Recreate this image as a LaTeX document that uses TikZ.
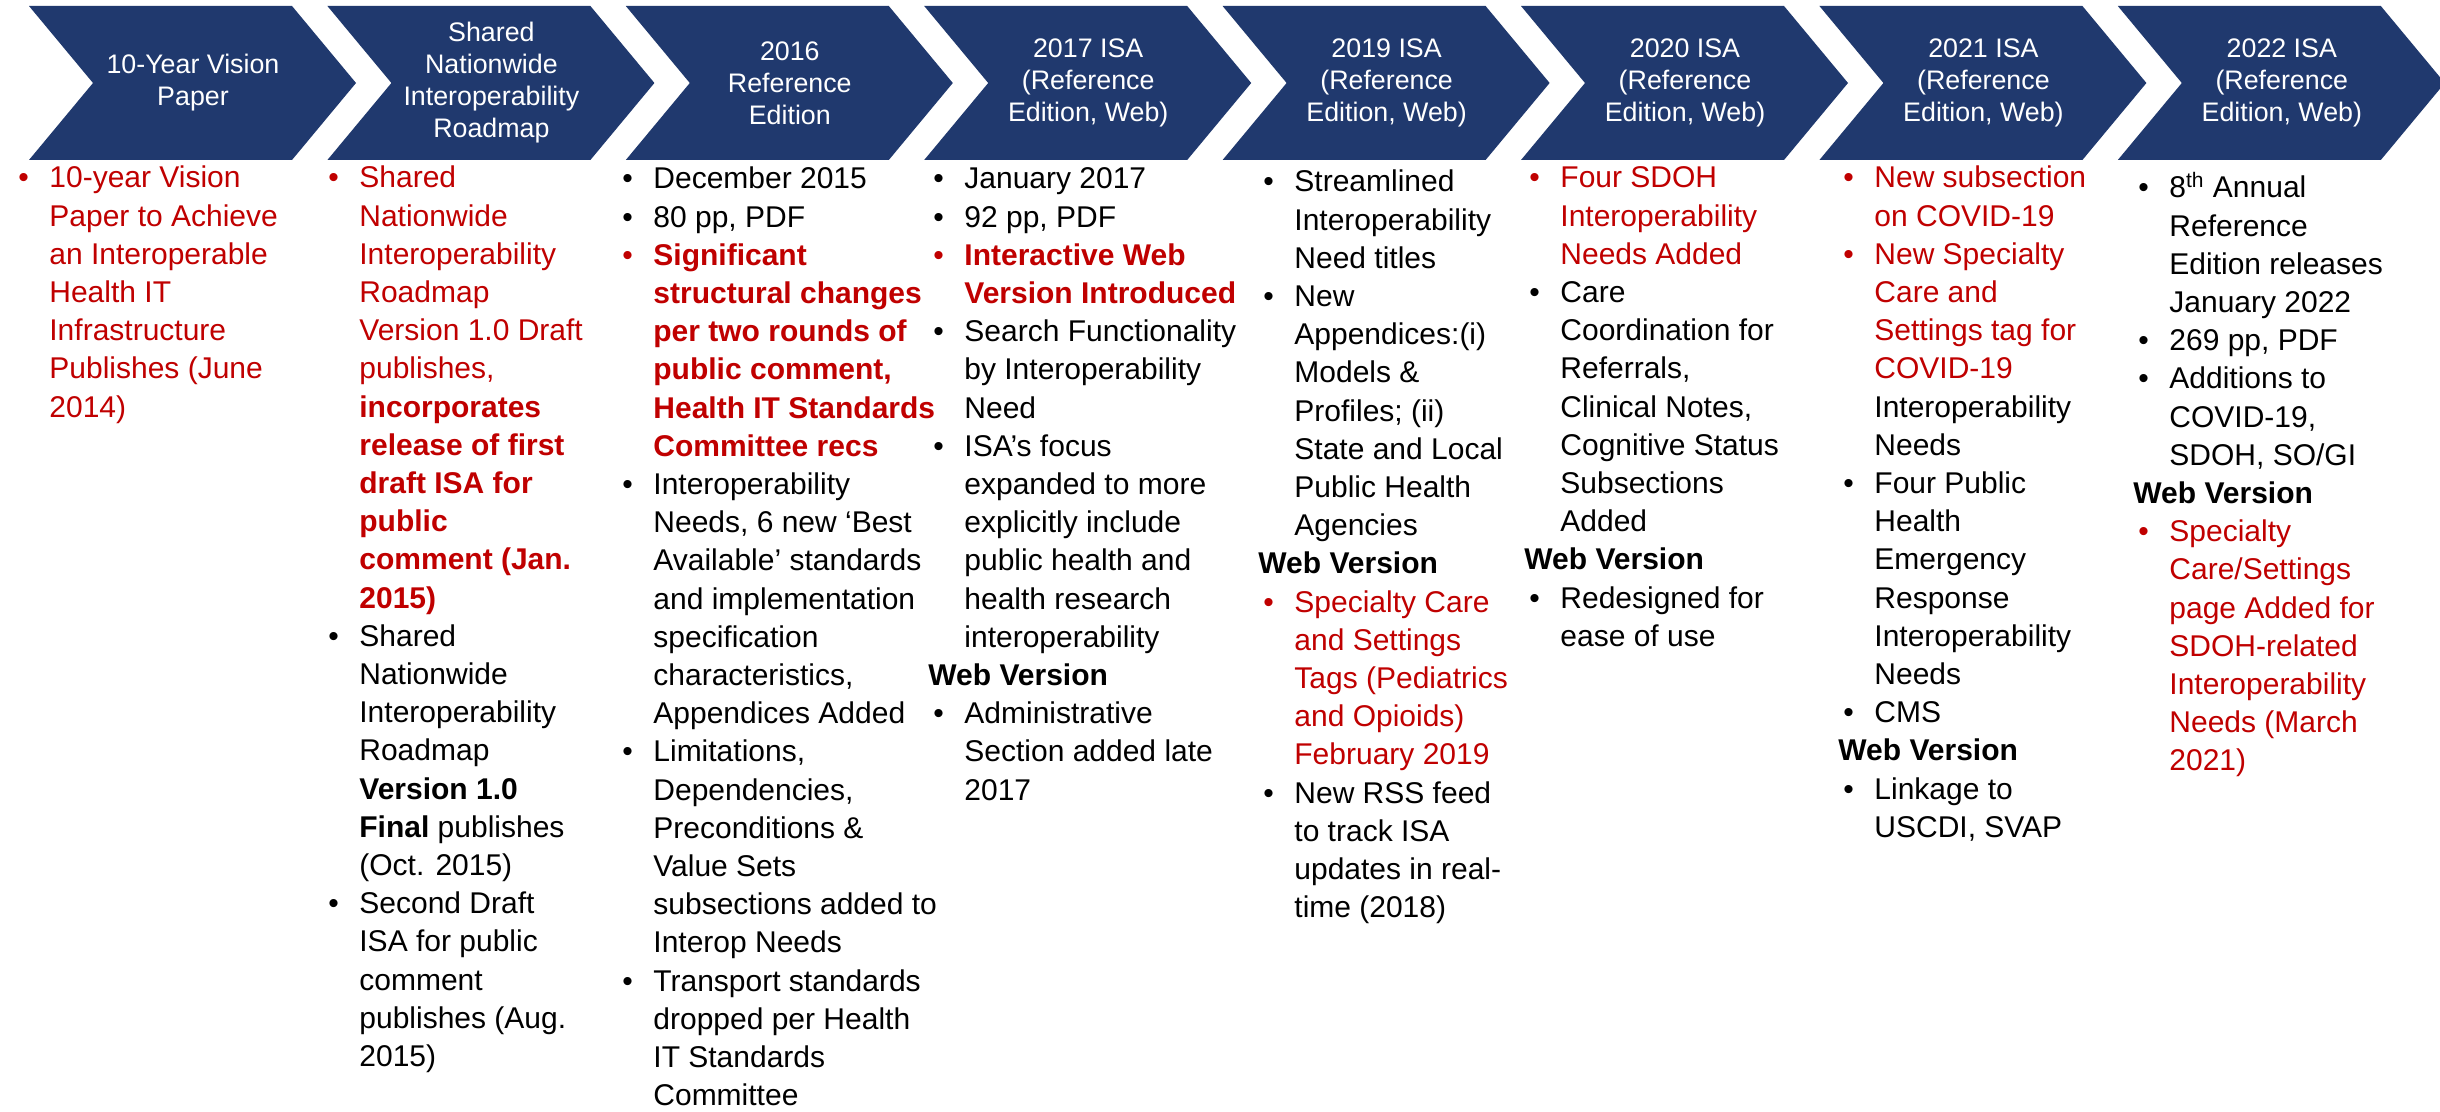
\documentclass[tikz,border=0pt]{standalone}
\usepackage{fontspec}
\setmainfont{Liberation Sans}
\definecolor{navy}{RGB}{32,57,110}
\definecolor{rd}{RGB}{192,0,0}
\newcommand\itm[2]{\par\hangindent=18pt\hangafter=1\noindent\makebox[18pt][l]{\hspace{2.5pt}\textcolor{#1}{\textbullet}}{#2}}
\newcommand\webv{\par\noindent\textbf{Web Version}}
\newcommand\colbox[1]{\parbox[t]{300pt}{\fontsize{15}{19.1}\selectfont\setlength\parindent{0pt}\hbadness=10000 #1}}
\tikzset{
  chev/.style={fill=navy},
  head/.style={text=white, align=center, font=\fontsize{13.4}{16}\selectfont, inner sep=0pt},
  col/.style={anchor=base west, inner sep=0pt},
}
\newcommand\chev[3]{%
  \fill[chev] (#2,6) -- ++(263,0) -- ++(64,77) -- ++(-64,77) -- ++(-263,0) -- ++(64,-77) -- cycle;
  \node[head] (#1) at (#2+164,83) {#3};}
\begin{document}
\begin{tikzpicture}[x=0.5pt,y=-0.5pt]
\fill[white] (0,0) rectangle (2440,1112);
\useasboundingbox (0,0) rectangle (2440,1112);

\chev{h1}{29}{10-Year Vision\\Paper}
\chev{h2}{327.4}{Shared\\Nationwide\\Interoperability\\Roadmap}
\chev{h3}{625.8}{2016\\Reference\\Edition}
\chev{h4}{924.2}{2017 ISA\\(Reference\\Edition, Web)}
\chev{h5}{1222.6}{2019 ISA\\(Reference\\Edition, Web)}
\chev{h6}{1521}{2020 ISA\\(Reference\\Edition, Web)}
\chev{h7}{1819.4}{2021 ISA\\(Reference\\Edition, Web)}
\chev{h8}{2117.8}{2022 ISA\\(Reference\\Edition, Web)}

\node[col] (c1) at (13,188) {\colbox{%
\itm{rd}{\color{rd}10-year Vision\\Paper to Achieve\\an Interoperable\\Health IT\\Infrastructure\\Publishes (June\\2014)}}};

\node[col] (c2) at (323,188) {\colbox{%
\itm{rd}{\color{rd}Shared\\Nationwide\\Interoperability\\Roadmap\\Version 1.0 Draft\\publishes,\\\textbf{incorporates\\release of first\\draft ISA for\\public\\comment (Jan.\\2015)}}
\itm{black}{Shared\\Nationwide\\Interoperability\\Roadmap\\\textbf{Version 1.0\\Final} publishes\\(Oct. 2015)}
\itm{black}{Second Draft\\ISA for public\\comment\\publishes (Aug.\\2015)}}};

\node[col] (c3) at (617,189) {\colbox{%
\itm{black}{December 2015}
\itm{black}{80 pp, PDF}
\itm{rd}{\color{rd}\bfseries Significant\\structural changes\\per two rounds of\\public comment,\\Health IT Standards\\Committee recs}
\itm{black}{Interoperability\\Needs, 6 new ‘Best\\Available’ standards\\and implementation\\specification\\characteristics,\\Appendices Added}
\itm{black}{Limitations,\\Dependencies,\\Preconditions \&\\Value Sets\\subsections added to\\Interop Needs}
\itm{black}{Transport standards\\dropped per Health\\IT Standards\\Committee}}};

\node[col] (c4) at (928,189) {\colbox{%
\itm{black}{January 2017}
\itm{black}{92 pp, PDF}
\itm{rd}{\color{rd}\bfseries Interactive Web\\Version Introduced}
\itm{black}{Search Functionality\\by Interoperability\\Need}
\itm{black}{ISA’s focus\\expanded to more\\explicitly include\\public health and\\health research\\interoperability}
\webv
\itm{black}{Administrative\\Section added late\\2017}}};

\node[col] (c5) at (1258,192) {\colbox{%
\itm{black}{Streamlined\\Interoperability\\Need titles}
\itm{black}{New\\Appendices:(i)\\Models \&\\Profiles; (ii)\\State and Local\\Public Health\\Agencies}
\webv
\itm{rd}{\color{rd}Specialty Care\\and Settings\\Tags (Pediatrics\\and Opioids)\\February 2019}
\itm{black}{New RSS feed\\to track ISA\\updates in real-\\time (2018)}}};

\node[col] (c6) at (1524,188) {\colbox{%
\itm{rd}{\color{rd}Four SDOH\\Interoperability\\Needs Added}
\itm{black}{Care\\Coordination for\\Referrals,\\Clinical Notes,\\Cognitive Status\\Subsections\\Added}
\webv
\itm{black}{Redesigned for\\ease of use}}};

\node[col] (c7) at (1838,188) {\colbox{%
\itm{rd}{\color{rd}New subsection\\on COVID-19}
\itm{rd}{\textcolor{rd}{New Specialty\\Care and\\Settings tag for\\COVID-19}\\Interoperability\\Needs}
\itm{black}{Four Public\\Health\\Emergency\\Response\\Interoperability\\Needs}
\itm{black}{CMS}
\webv
\itm{black}{Linkage to\\USCDI, SVAP}}};

\node[col] (c8) at (2133,198) {\colbox{%
\itm{black}{8\textsuperscript{th} Annual\\Reference\\Edition releases\\January 2022}
\itm{black}{269 pp, PDF}
\itm{black}{Additions to\\COVID-19,\\SDOH, SO/GI}
\webv
\itm{rd}{\color{rd}Specialty\\Care/Settings\\page Added for\\SDOH-related\\Interoperability\\Needs (March\\2021)}}};
\end{tikzpicture}
\end{document}
